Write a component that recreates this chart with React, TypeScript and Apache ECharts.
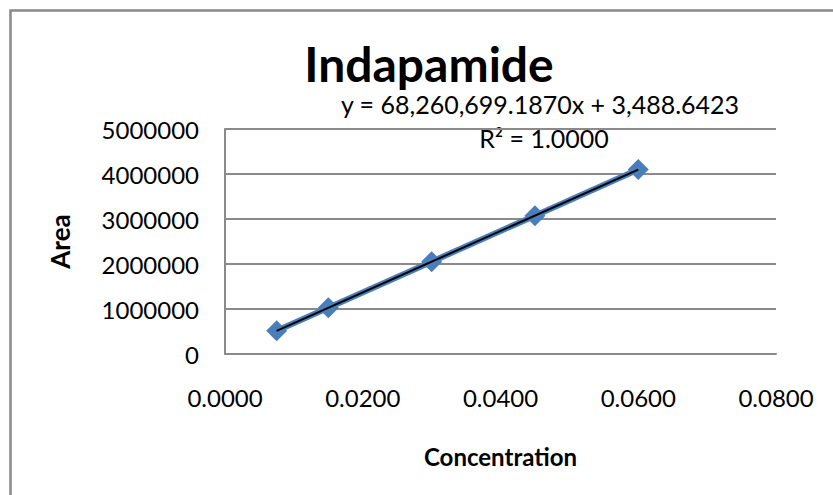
import React, { useEffect, useRef } from "react";
import * as echarts from "echarts";

const concentrations = [0.0075, 0.015, 0.03, 0.045, 0.06];
const areas = [516800, 1026000, 2052000, 3074500, 4099800];
const slope = 68260699.187;
const intercept = 3488.6423;
const titleText = "Indapamide";
const equationText = "y = 68,260,699.1870x + 3,488.6423";
const r2Text = "R² = 1.0000";
const xName = "Concentration";
const yName = "Area";

const FONT = "Lato";

export default function App() {
  const ref = useRef<HTMLDivElement>(null);
  useEffect(() => {
    document.body.style.margin = "0";
    if (!ref.current) return;
    const chart = echarts.init(ref.current, undefined, { renderer: "svg" });
    const pts = concentrations.map((c, i) => [c, areas[i]]);
    const xFirst = concentrations[0];
    const xLast = concentrations[concentrations.length - 1];
    const trend = [
      [xFirst, slope * xFirst + intercept],
      [xLast, slope * xLast + intercept],
    ];
    chart.setOption({
      animation: false,
      backgroundColor: "#ffffff",
      textStyle: { fontFamily: FONT },
      grid: {
        left: 225,
        top: 129,
        right: 57,
        bottom: 141,
        containLabel: false,
        outerBoundsMode: "none",
      },
      xAxis: {
        type: "value",
        min: 0,
        max: 0.08,
        interval: 0.02,
        name: xName,
        nameLocation: "middle",
        nameGap: 90,
        nameTextStyle: { fontFamily: FONT, fontWeight: "bold", fontSize: 24, color: "#000" },
        axisLine: { show: true, onZero: false, lineStyle: { color: "#8a8a8a", width: 2 } },
        axisTick: { show: false },
        splitLine: { show: false },
        axisLabel: {
          margin: 31,
          fontFamily: FONT,
          fontSize: 24,
          color: "#000",
          formatter: (v: number) => v.toFixed(4),
        },
      },
      yAxis: {
        type: "value",
        min: 0,
        max: 5000000,
        interval: 1000000,
        name: yName,
        nameLocation: "middle",
        nameGap: 152,
        nameRotate: 90,
        nameTextStyle: { fontFamily: FONT, fontWeight: "bold", fontSize: 26, color: "#000" },
        axisLine: { show: true, lineStyle: { color: "#8a8a8a", width: 2 } },
        axisTick: { show: false },
        splitLine: { show: true, lineStyle: { color: "#8a8a8a", width: 2 } },
        axisLabel: {
          margin: 26,
          fontFamily: FONT,
          fontSize: 24,
          color: "#000",
          formatter: (v: number) => String(v),
        },
      },
      series: [
        {
          type: "line",
          data: pts,
          symbol: "diamond",
          symbolSize: 21,
          itemStyle: { color: "#4a7ebb" },
          lineStyle: { color: "#4a7ebb", width: 6 },
          z: 2,
        },
        {
          type: "line",
          data: trend,
          symbol: "none",
          lineStyle: { color: "#000000", width: 2 },
          z: 3,
        },
      ],
      graphic: [
        {
          type: "rect",
          shape: { x: 10.5, y: 10.5, width: 1000, height: 1000 },
          style: { fill: "none", stroke: "#888888", lineWidth: 2.5 },
          silent: true,
        },
        {
          type: "text",
          x: 429,
          y: 63,
          style: {
            text: titleText,
            fontFamily: FONT,
            fontWeight: "bold",
            fontSize: 48,
            fill: "#000",
            align: "center",
            verticalAlign: "middle",
          },
        },
        {
          type: "text",
          x: 540,
          y: 104,
          style: {
            text: equationText,
            fontFamily: FONT,
            fontSize: 25,
            fill: "#000",
            align: "center",
            verticalAlign: "middle",
          },
        },
        {
          type: "text",
          x: 544,
          y: 138,
          style: {
            text: r2Text,
            fontFamily: FONT,
            fontSize: 25,
            fill: "#000",
            align: "center",
            verticalAlign: "middle",
          },
        },
      ],
    });
    return () => chart.dispose();
  }, []);
  return <div ref={ref} style={{ width: 833, height: 495 }} />;
}
